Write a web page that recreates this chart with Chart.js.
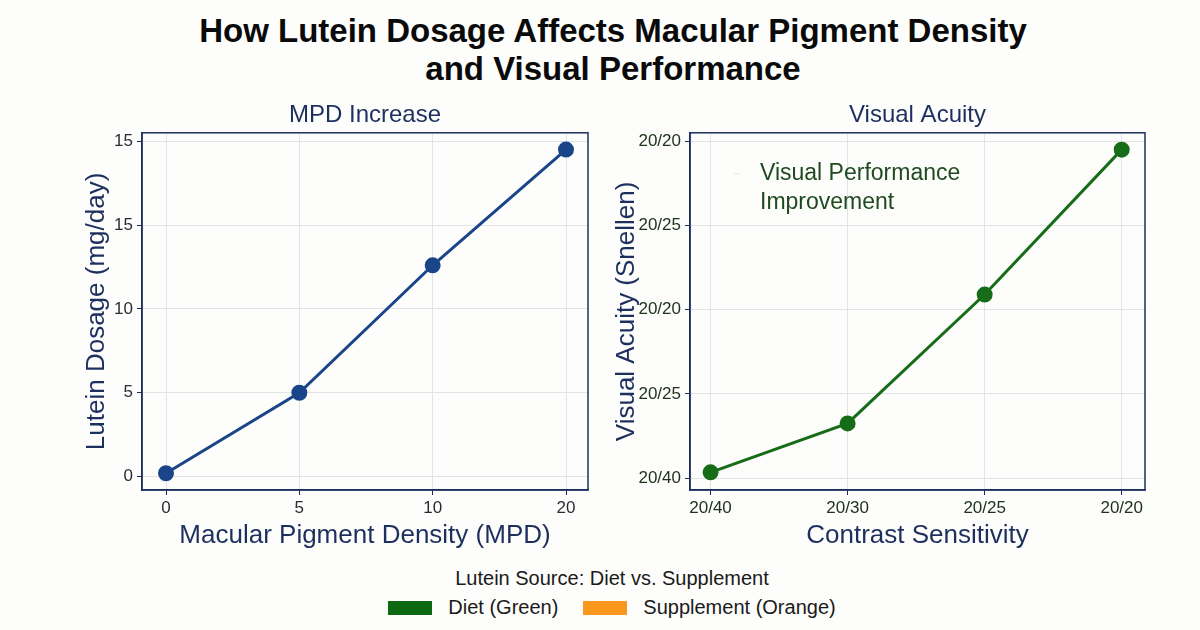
<!DOCTYPE html>
<html>
<head>
<meta charset="utf-8">
<script src="https://cdn.jsdelivr.net/npm/chart.js@4.4.1/dist/chart.umd.min.js"></script>
<style>
  body { margin: 0; width: 1200px; height: 630px; background: #fdfdfb; font-family: "Liberation Sans", Arial, sans-serif; position: relative; overflow: hidden; }
  #title { position: absolute; left: 0; top: 12px; width: 1226px; text-align: center; font-weight: bold; font-size: 33px; line-height: 38px; color: #0a0a0a; }
  .box { position: absolute; top: 95px; width: 600px; height: 465px; }
  #left { left: 0; }
  #right { left: 600px; }
  #legend { position: absolute; left: 0; top: 565px; width: 1224px; text-align: center; color: #1a1a1a; }
  #legend .head { font-size: 20px; line-height: 26px; }
  #legend .items { font-size: 20px; line-height: 26px; margin-top: 3px; }
  .sw { display: inline-block; width: 44px; height: 14px; vertical-align: -1px; margin-right: 16px; }
</style>
</head>
<body>
<div id="title">How Lutein Dosage Affects Macular Pigment Density<br>and Visual Performance</div>
<div class="box" id="left"><canvas id="chartMpd"></canvas></div>
<div class="box" id="right"><canvas id="chartAcuity"></canvas></div>
<div id="legend">
  <div class="head">Lutein Source: Diet vs. Supplement</div>
  <div class="items"><span class="sw" style="background:#0e6a12"></span>Diet (Green)<span style="display:inline-block;width:25px"></span><span class="sw" style="background:#f8961e"></span>Supplement (Orange)</div>
</div>
<script>
// dados
const mpdLabels = ['0', '5', '10', '20'];
const dosageTicks = ['0', '5', '10', '15', '15'];
const dosageValues = [0.2, 5, 12.6, 19.5];

const contrastLabels = ['20/40', '20/30', '20/25', '20/20'];
const acuityTicks = ['20/40', '20/25', '20/20', '20/25', '20/20'];
const acuityValues = [0.07, 0.65, 2.18, 3.9];

const navy = '#1d2f5e';
const font = 'Liberation Sans, Arial, sans-serif';

// moldura completa do gráfico
const frame = {
  id: 'frame',
  afterDraw(chart) {
    const a = chart.chartArea, ctx = chart.ctx;
    ctx.save();
    ctx.strokeStyle = navy;
    ctx.lineWidth = 1.5;
    ctx.strokeRect(a.left, a.top, a.right - a.left, a.bottom - a.top);
    ctx.restore();
  }
};

// texto tipo legenda dentro do segundo gráfico
const perfNote = {
  id: 'perfNote',
  afterDatasetsDraw(chart) {
    const a = chart.chartArea, ctx = chart.ctx;
    ctx.save();
    ctx.fillStyle = '#1f4a1f';
    ctx.font = '23px ' + font;
    ctx.textBaseline = 'middle';
    ctx.fillText('Visual Performance', a.left + 70, a.top + 41);
    ctx.fillText('Improvement', a.left + 70, a.top + 70);
    ctx.strokeStyle = '#e4e8e4';
    ctx.lineWidth = 1;
    ctx.beginPath();
    ctx.moveTo(a.left + 44, a.top + 41);
    ctx.lineTo(a.left + 50, a.top + 41);
    ctx.stroke();
    ctx.restore();
  }
};

function makeChart(id, cfg) {
  const ctx = document.getElementById(id).getContext('2d');
  return new Chart(ctx, {
    type: 'line',
    data: {
      datasets: [{
        data: cfg.values.map((v, i) => ({ x: i, y: v })),
        borderColor: cfg.color,
        backgroundColor: cfg.color,
        borderWidth: 3,
        pointRadius: 6.5,
        pointHoverRadius: 6.5,
        tension: 0
      }]
    },
    options: {
      responsive: true,
      maintainAspectRatio: false,
      animation: false,
      layout: { padding: { left: cfg.padLeft, right: cfg.padRight, top: 0, bottom: 0 } },
      plugins: {
        legend: { display: false },
        tooltip: { enabled: false },
        title: {
          display: true,
          fullSize: false,
          text: cfg.title,
          color: navy,
          font: { family: font, size: 24, weight: 'normal' },
          padding: { top: 6, bottom: 3 }
        }
      },
      scales: {
        x: {
          type: 'linear',
          min: cfg.xMin,
          max: cfg.xMax,
          afterBuildTicks: s => { s.ticks = cfg.xLabels.map((_, i) => ({ value: i })); },
          afterFit: s => { s.height = 70; },
          ticks: {
            callback: v => cfg.xLabels[v],
            color: cfg.tickColor,
            font: { family: font, size: 17 },
            padding: 3,
            maxRotation: 0
          },
          grid: { color: '#e2e4ea', tickLength: 5, tickColor: navy },
          border: { color: navy, width: 1.5 },
          title: {
            display: true,
            text: cfg.xTitle,
            color: navy,
            font: { family: font, size: 26 },
            padding: { top: 0, bottom: 9 }
          }
        },
        y: {
          type: 'linear',
          min: cfg.yMin,
          max: cfg.yMax,
          afterBuildTicks: s => { s.ticks = cfg.yLabels.map((_, i) => ({ value: i * cfg.yStep })); },
          afterFit: s => { s.width = cfg.yWidth; },
          ticks: {
            callback: v => cfg.yLabels[Math.round(v / cfg.yStep)],
            color: cfg.tickColor,
            font: { family: font, size: 17 },
            padding: 4
          },
          grid: { color: '#e2e4ea', tickLength: 5, tickColor: navy },
          border: { color: navy, width: 1.5 },
          title: {
            display: true,
            text: cfg.yTitle,
            color: navy,
            font: { family: font, size: 26 },
            padding: 0
          }
        }
      }
    },
    plugins: cfg.extra ? [frame, cfg.extra] : [frame]
  });
}

makeChart('chartMpd', {
  values: dosageValues,
  color: '#1a4589',
  title: 'MPD Increase',
  xLabels: mpdLabels,
  yLabels: dosageTicks,
  yStep: 5,
  xMin: -0.18, xMax: 3.165,
  yMin: -0.8, yMax: 20.5,
  padLeft: 81, padRight: 12,
  yWidth: 61,
  tickColor: '#2b2b35',
  xTitle: 'Macular Pigment Density (MPD)',
  yTitle: 'Lutein Dosage (mg/day)'
});

makeChart('chartAcuity', {
  values: acuityValues,
  color: '#176c17',
  title: 'Visual Acuity',
  xLabels: contrastLabels,
  yLabels: acuityTicks,
  yStep: 1,
  xMin: -0.15, xMax: 3.17,
  yMin: -0.14, yMax: 4.1,
  padLeft: 11, padRight: 55,
  yWidth: 79,
  tickColor: '#21331f',
  xTitle: 'Contrast Sensitivity',
  yTitle: 'Visual Acuity (Snellen)',
  extra: perfNote
});
</script>
</body>
</html>
